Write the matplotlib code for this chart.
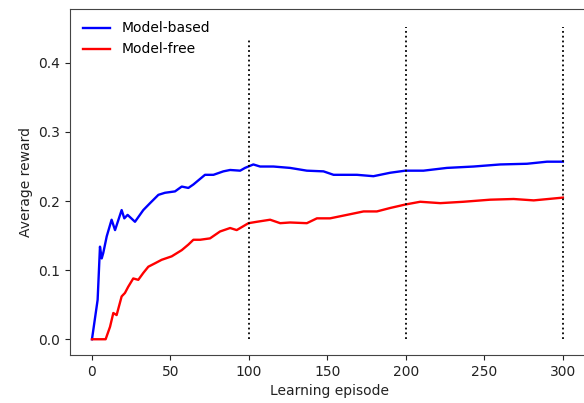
import matplotlib
matplotlib.use('Agg')
import matplotlib.pyplot as plt

# episode / reward
mb_x = [0, 3.6, 5.1, 6.2, 7.2, 9.4, 12.5, 14.7, 18.9, 20.6, 22.7, 27.4, 32.7, 37,
        42.3, 46.5, 52.9, 57.2, 61.4, 64.6, 72, 77.4, 83.7, 88, 94.4, 97.5, 102.8,
        107.1, 115.6, 126.2, 136.9, 147.5, 153.9, 168.8, 179.3, 183.6, 190, 199.6,
        211.2, 226.1, 243.1, 260.1, 277.1, 289.9, 300]
mb_y = [0, 0.057, 0.134, 0.117, 0.125, 0.149, 0.173, 0.158, 0.187, 0.175, 0.18, 0.17,
        0.187, 0.197, 0.209, 0.212, 0.214, 0.221, 0.219, 0.224, 0.238, 0.238, 0.243,
        0.245, 0.244, 0.248, 0.253, 0.25, 0.25, 0.248, 0.244, 0.243, 0.238, 0.238,
        0.236, 0.238, 0.241, 0.244, 0.244, 0.248, 0.25, 0.253, 0.254, 0.257, 0.257]

mf_x = [0, 8.7, 11.5, 13.6, 15.7, 18.9, 21, 23.1, 26.3, 29.5, 32.7, 35.9, 40.2, 44.4,
        50.8, 57.2, 61.4, 64.6, 68.9, 75.2, 81.6, 88, 92.2, 99.7, 105, 113.5, 119.9,
        126.2, 136.9, 143.3, 151.7, 162.4, 173, 181.5, 190, 199.6, 209.1, 221.9,
        236.7, 253.7, 268.6, 281.4, 300]
mf_y = [0, 0, 0.018, 0.038, 0.035, 0.062, 0.067, 0.076, 0.088, 0.086, 0.096, 0.105,
        0.11, 0.115, 0.12, 0.129, 0.137, 0.144, 0.144, 0.146, 0.156, 0.161, 0.158,
        0.168, 0.17, 0.173, 0.168, 0.169, 0.168, 0.175, 0.175, 0.18, 0.185, 0.185,
        0.19, 0.195, 0.199, 0.197, 0.199, 0.202, 0.203, 0.201, 0.205]

vline_x = [100, 200, 300]
vline_top = [0.436, 0.452, 0.452]

fig = plt.figure(figsize=(5.84, 4.03), dpi=100)
ax = fig.add_axes([70 / 584, 48 / 403, 518 / 584, 346 / 403])

ax.plot(mb_x, mb_y, color='blue', lw=1.7, label='Model-based')
ax.plot(mf_x, mf_y, color='red', lw=1.7, label='Model-free')

for x, top in zip(vline_x, vline_top):
    ax.vlines(x, 0, top, colors='black', linestyles=':', lw=1.3)

ax.set_xlim(-14, 316)
ax.set_ylim(-0.0228, 0.478)
ax.set_xticks([0, 50, 100, 150, 200, 250, 300])
ax.set_yticks([0.0, 0.1, 0.2, 0.3, 0.4])
ax.tick_params(labelsize=10, colors='#222222')
for s in ax.spines.values():
    s.set_color('#444444')

ax.set_xlabel('Learning episode', fontsize=10, color='#222222')
ax.set_ylabel('Average reward', fontsize=10, color='#222222')
ax.legend(loc='upper left', frameon=False, fontsize=10)

plt.savefig('out.png')
